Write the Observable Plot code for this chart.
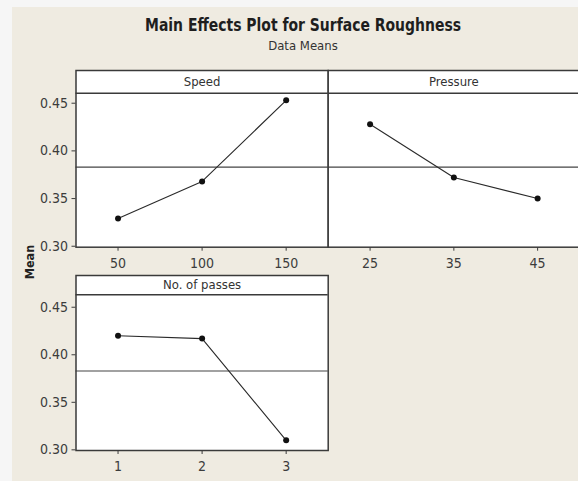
<!DOCTYPE html>
<html><head><meta charset="utf-8">
<script src="https://cdn.jsdelivr.net/npm/d3@7"></script>
<script src="https://cdn.jsdelivr.net/npm/@observablehq/plot@0.6"></script>
<style>
body{margin:0;background:#fff;}
#wrap{position:relative;width:578px;height:481px;overflow:hidden;background:#f6f6f6;font-family:"DejaVu Sans Condensed","DejaVu Sans",sans-serif;}
#bg{position:absolute;left:12px;top:7px;right:0;bottom:0;background:#efebe1;}
.abs{position:absolute;white-space:nowrap;}
#title{top:15.8px;font-weight:bold;font-size:18px;color:#1e1e1e;line-height:18px;transform-origin:0 0;}
#subtitle{top:39px;font-size:13px;color:#333;line-height:13px;}
#ylab{left:0;top:254px;width:60px;text-align:center;font-weight:bold;font-size:12.5px;color:#222;line-height:16px;transform-origin:30px 8px;transform:rotate(-90deg);}
</style></head><body><div id="wrap"><div id="bg"></div></div>
<script>
const speedLevels = [50, 100, 150];
const speedMeans = [0.329, 0.368, 0.453];
const pressureLevels = [25, 35, 45];
const pressureMeans = [0.428, 0.372, 0.350];
const passLevels = [1, 2, 3];
const passMeans = [0.420, 0.417, 0.310];
const grandMean = 0.383;
const yTicks = [0.30, 0.35, 0.40, 0.45];
const panelNames = ["Speed", "Pressure", "No. of passes"];
const titleText = "Main Effects Plot for Surface Roughness";
const subtitleText = "Data Means";
const yLabelText = "Mean";

const wrap = document.getElementById("wrap");
function addDiv(id, text){ const d=document.createElement("div"); d.id=id; d.className="abs"; d.textContent=text; wrap.appendChild(d); return d; }
const t = addDiv("title", titleText);
const st = addDiv("subtitle", subtitleText);
addDiv("ylab", yLabelText);
// title: centred at x=303, squeezed to 316px wide
{
  const w = t.getBoundingClientRect().width;
  const s = 316 / w;
  t.style.left = (303 - 158) + "px";
  t.style.transform = `scaleX(${s})`;
  const ws = st.getBoundingClientRect().width;
  st.style.left = (303 - ws/2) + "px";
}

const FONT = '"DejaVu Sans Condensed","DejaVu Sans",sans-serif';

function panel(o){
  const data = o.levels.map((l,i)=>({level:l, mean:o.means[i]}));
  const xmid = (o.xDomain[0]+o.xDomain[1])/2;
  const p = Plot.plot({
    width:o.width, height:o.height,
    marginLeft:o.ml, marginRight:o.mr, marginTop:o.mt, marginBottom:o.mb,
    style:{background:"transparent", fontFamily:FONT, fontSize:"14px", color:"#3c3c3c", overflow:"visible"},
    x:{domain:o.xDomain, ticks:o.levels, tickSize:4, tickPadding:7, tickFormat:d=>String(d), label:null},
    y:{domain:o.yDomain, ticks:yTicks, tickSize:4, tickPadding:4, tickFormat:d3.format(".2f"), label:null, axis:o.showY?"left":null},
    marks:[
      Plot.frame({fill:"white", stroke:null}),
      Plot.ruleY([o.strip], {stroke:"#3a3a3a", strokeWidth:1.4}),
      Plot.text([o.name], {x:xmid, y:(o.strip+o.yDomain[1])/2, text:d=>d, fontSize:13, fill:"#333"}),
      Plot.ruleY([grandMean], {stroke:"#444", strokeWidth:1.1}),
      Plot.line(data, {x:"level", y:"mean", stroke:"#2a2a2a", strokeWidth:1.1}),
      Plot.dot(data, {x:"level", y:"mean", r:3, fill:"#111", stroke:null}),
      Plot.frame({stroke:"#3a3a3a", strokeWidth:1.5})
    ]
  });
  p.style.position="absolute"; p.style.left=o.left+"px"; p.style.top=o.top+"px";
  wrap.appendChild(p);
}

panel({name:panelNames[0], levels:speedLevels, means:speedMeans, xDomain:[25,175], yDomain:[0.299,0.4843], strip:0.4605, showY:true,
  left:0, top:65, width:330, height:215, ml:75.5, mr:2.3, mt:5, mb:33.3});
panel({name:panelNames[1], levels:pressureLevels, means:pressureMeans, xDomain:[20,50], yDomain:[0.299,0.4843], strip:0.4605, showY:false,
  left:320, top:65, width:262, height:215, ml:7.7, mr:3, mt:5, mb:33.3});
panel({name:panelNames[2], levels:passLevels, means:passMeans, xDomain:[0.5,3.5], yDomain:[0.2993,0.4834], strip:0.4631, showY:true,
  left:0, top:270, width:330, height:211, ml:75.5, mr:2.3, mt:5, mb:31});
</script></body></html>
